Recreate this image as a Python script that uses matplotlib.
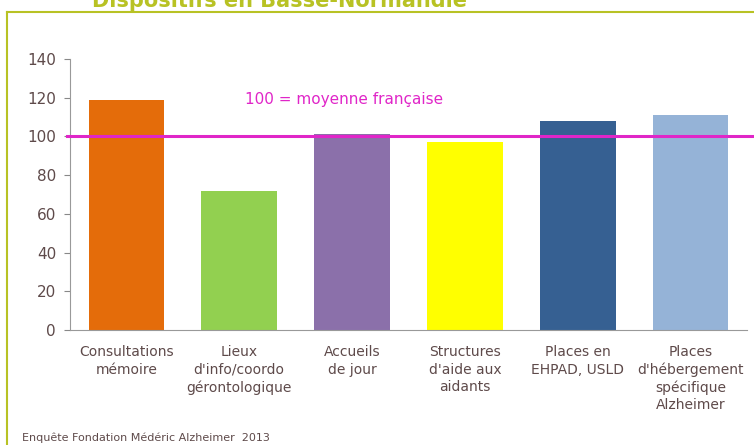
import numpy as np
import matplotlib.pyplot as plt
from matplotlib.lines import Line2D

categories = ["Consultations\nmémoire", "Lieux\nd'info/coordo\ngérontologique", "Accueils\nde jour",
              "Structures\nd'aide aux\naidants", "Places en\nEHPAD, USLD",
              "Places\nd'hébergement\nspécifique\nAlzheimer"]
values = [119, 72, 101, 97, 108, 111]
colors = ["#E46C0A", "#92D050", "#8B70AA", "#FFFF00", "#366092", "#95B3D7"]
reference = 100

text_col = "#5e4a4a"
olive = "#b8c224"

fig = plt.figure(figsize=(7.54, 4.45), dpi=100)
ax = fig.add_axes([70/754, 115/445, 677/754, 271/445])

x = np.arange(len(categories))
ax.bar(x, values, width=0.67, color=colors, zorder=2)
ax.axhline(reference, xmin=-0.005, xmax=1.01, color="#E026C8", lw=2.2, zorder=3, clip_on=False)
ax.text(1.05, 119.3, "100 = moyenne française", color="#E026C8", fontsize=11, va="center")

ax.set_xlim(-0.5, len(categories) - 0.5)
ax.set_ylim(0, 140)
ax.set_yticks(range(0, 141, 20))
ax.set_xticks(x)
ax.set_xticklabels(categories, color=text_col, fontsize=10, linespacing=1.3)
ax.tick_params(axis="x", length=0, pad=11)
ax.tick_params(axis="y", colors="#888888", labelcolor=text_col, labelsize=11, length=4, pad=6)
for s in ["top", "right"]:
    ax.spines[s].set_visible(False)
ax.spines["left"].set_color("#999999")
ax.spines["bottom"].set_color("#999999")

# outer frame and title (cut at the top, as in the source slide)
fig.add_artist(Line2D([7/754, 1], [1 - 12/445, 1 - 12/445], color=olive, lw=1.5))
fig.add_artist(Line2D([7/754, 7/754], [0, 1 - 12/445], color=olive, lw=1.5))
fig.text(280/754, 1 - 7/445, "Dispositifs en Basse-Normandie", color=olive, fontsize=15,
         fontweight="bold", ha="center", va="baseline")
fig.text(22/754, 4/445, "Enquête Fondation Médéric Alzheimer  2013", color=text_col,
         fontsize=8, va="baseline")

fig.savefig("out.png", dpi=100)
